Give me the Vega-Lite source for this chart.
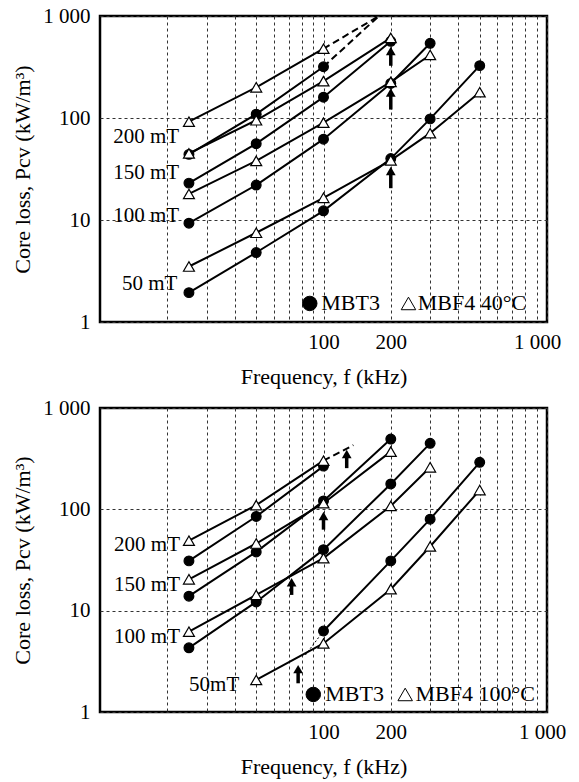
{
  "$schema": "https://vega.github.io/schema/vega-lite/v6.json",
  "background": "white",
  "padding": {"left": 10, "top": 3, "right": 0, "bottom": 0},
  "bounds": "flush",
  "spacing": 86,
  "config": {
    "font": "Liberation Serif",
    "view": {"stroke": "black", "strokeWidth": 2.5},
    "axis": {
      "labelFont": "Liberation Serif", "titleFont": "Liberation Serif",
      "labelFontSize": 21, "titleFontSize": 22, "titleFontWeight": "normal",
      "labelColor": "black", "titleColor": "black",
      "domain": false, "ticks": false, "grid": true,
      "gridColor": "#333", "gridDash": [3, 3], "gridWidth": 1, "gridOpacity": 1
    }
  },
  "datasets": {
    "series": [
      {"panel": "40", "mat": "MBT3", "B": 200, "f": 25, "P": 44},
      {"panel": "40", "mat": "MBT3", "B": 200, "f": 50, "P": 109},
      {"panel": "40", "mat": "MBT3", "B": 200, "f": 100, "P": 318},
      {"panel": "40", "mat": "MBF4", "B": 200, "f": 25, "P": 92},
      {"panel": "40", "mat": "MBF4", "B": 200, "f": 50, "P": 200},
      {"panel": "40", "mat": "MBF4", "B": 200, "f": 100, "P": 478},
      {"panel": "40", "mat": "MBT3", "B": 150, "f": 25, "P": 23},
      {"panel": "40", "mat": "MBT3", "B": 150, "f": 50, "P": 56},
      {"panel": "40", "mat": "MBT3", "B": 150, "f": 100, "P": 160},
      {"panel": "40", "mat": "MBT3", "B": 150, "f": 200, "P": 565},
      {"panel": "40", "mat": "MBF4", "B": 150, "f": 25, "P": 45},
      {"panel": "40", "mat": "MBF4", "B": 150, "f": 50, "P": 95},
      {"panel": "40", "mat": "MBF4", "B": 150, "f": 100, "P": 230},
      {"panel": "40", "mat": "MBF4", "B": 150, "f": 200, "P": 610},
      {"panel": "40", "mat": "MBT3", "B": 100, "f": 25, "P": 9.3},
      {"panel": "40", "mat": "MBT3", "B": 100, "f": 50, "P": 22},
      {"panel": "40", "mat": "MBT3", "B": 100, "f": 100, "P": 62},
      {"panel": "40", "mat": "MBT3", "B": 100, "f": 200, "P": 218},
      {"panel": "40", "mat": "MBT3", "B": 100, "f": 300, "P": 540},
      {"panel": "40", "mat": "MBF4", "B": 100, "f": 25, "P": 18},
      {"panel": "40", "mat": "MBF4", "B": 100, "f": 50, "P": 38},
      {"panel": "40", "mat": "MBF4", "B": 100, "f": 100, "P": 90},
      {"panel": "40", "mat": "MBF4", "B": 100, "f": 200, "P": 226},
      {"panel": "40", "mat": "MBF4", "B": 100, "f": 300, "P": 415},
      {"panel": "40", "mat": "MBT3", "B": 50, "f": 25, "P": 1.94},
      {"panel": "40", "mat": "MBT3", "B": 50, "f": 50, "P": 4.8},
      {"panel": "40", "mat": "MBT3", "B": 50, "f": 100, "P": 12.3},
      {"panel": "40", "mat": "MBT3", "B": 50, "f": 200, "P": 40},
      {"panel": "40", "mat": "MBT3", "B": 50, "f": 300, "P": 98},
      {"panel": "40", "mat": "MBT3", "B": 50, "f": 500, "P": 326},
      {"panel": "40", "mat": "MBF4", "B": 50, "f": 25, "P": 3.5},
      {"panel": "40", "mat": "MBF4", "B": 50, "f": 50, "P": 7.5},
      {"panel": "40", "mat": "MBF4", "B": 50, "f": 100, "P": 16.5},
      {"panel": "40", "mat": "MBF4", "B": 50, "f": 200, "P": 38.5},
      {"panel": "40", "mat": "MBF4", "B": 50, "f": 300, "P": 71},
      {"panel": "40", "mat": "MBF4", "B": 50, "f": 500, "P": 179},

      {"panel": "100", "mat": "MBT3", "B": 200, "f": 25, "P": 31},
      {"panel": "100", "mat": "MBT3", "B": 200, "f": 50, "P": 85},
      {"panel": "100", "mat": "MBT3", "B": 200, "f": 100, "P": 267},
      {"panel": "100", "mat": "MBF4", "B": 200, "f": 25, "P": 49},
      {"panel": "100", "mat": "MBF4", "B": 200, "f": 50, "P": 110},
      {"panel": "100", "mat": "MBF4", "B": 200, "f": 100, "P": 302},
      {"panel": "100", "mat": "MBT3", "B": 150, "f": 25, "P": 13.9},
      {"panel": "100", "mat": "MBT3", "B": 150, "f": 50, "P": 38},
      {"panel": "100", "mat": "MBT3", "B": 150, "f": 100, "P": 121},
      {"panel": "100", "mat": "MBT3", "B": 150, "f": 200, "P": 494},
      {"panel": "100", "mat": "MBF4", "B": 150, "f": 25, "P": 20.4},
      {"panel": "100", "mat": "MBF4", "B": 150, "f": 50, "P": 46},
      {"panel": "100", "mat": "MBF4", "B": 150, "f": 100, "P": 115},
      {"panel": "100", "mat": "MBF4", "B": 150, "f": 200, "P": 371},
      {"panel": "100", "mat": "MBT3", "B": 100, "f": 25, "P": 4.3},
      {"panel": "100", "mat": "MBT3", "B": 100, "f": 50, "P": 12.2},
      {"panel": "100", "mat": "MBT3", "B": 100, "f": 100, "P": 40},
      {"panel": "100", "mat": "MBT3", "B": 100, "f": 200, "P": 178},
      {"panel": "100", "mat": "MBT3", "B": 100, "f": 300, "P": 448},
      {"panel": "100", "mat": "MBF4", "B": 100, "f": 25, "P": 6.2},
      {"panel": "100", "mat": "MBF4", "B": 100, "f": 50, "P": 14.3},
      {"panel": "100", "mat": "MBF4", "B": 100, "f": 100, "P": 33},
      {"panel": "100", "mat": "MBF4", "B": 100, "f": 200, "P": 108},
      {"panel": "100", "mat": "MBF4", "B": 100, "f": 300, "P": 260},
      {"panel": "100", "mat": "MBT3", "B": 50, "f": 100, "P": 6.3},
      {"panel": "100", "mat": "MBT3", "B": 50, "f": 200, "P": 31},
      {"panel": "100", "mat": "MBT3", "B": 50, "f": 300, "P": 80},
      {"panel": "100", "mat": "MBT3", "B": 50, "f": 500, "P": 291},
      {"panel": "100", "mat": "MBF4", "B": 50, "f": 50, "P": 2.07},
      {"panel": "100", "mat": "MBF4", "B": 50, "f": 100, "P": 4.75},
      {"panel": "100", "mat": "MBF4", "B": 50, "f": 200, "P": 16.3},
      {"panel": "100", "mat": "MBF4", "B": 50, "f": 300, "P": 43},
      {"panel": "100", "mat": "MBF4", "B": 50, "f": 500, "P": 155}
    ],
    "ext": [
      {"panel": "40", "id": "a", "style": "dashed", "f": 100, "P": 478},
      {"panel": "40", "id": "a", "style": "dashed", "f": 177, "P": 1000},
      {"panel": "40", "id": "b", "style": "dashed", "f": 100, "P": 318},
      {"panel": "40", "id": "b", "style": "dashed", "f": 177, "P": 1000},
      {"panel": "100", "id": "c", "style": "dashed", "f": 100, "P": 302},
      {"panel": "100", "id": "c", "style": "dashed", "f": 136, "P": 430},
      {"panel": "100", "id": "d", "style": "dotted", "f": 83, "P": 3.65},
      {"panel": "100", "id": "d", "style": "dotted", "f": 100, "P": 6.3}
    ],
    "arrows": [
      {"panel": "40", "f": 200, "P": 454, "P2": 325},
      {"panel": "40", "f": 200, "P": 178, "P2": 121},
      {"panel": "40", "f": 200, "P": 30.2, "P2": 20.5},
      {"panel": "100", "f": 127, "P": 351, "P2": 255},
      {"panel": "100", "f": 100, "P": 86, "P2": 63},
      {"panel": "100", "f": 72, "P": 19.1, "P2": 14.3},
      {"panel": "100", "f": 77, "P": 2.65, "P2": 1.92}
    ],
    "labels": [
      {"panel": "40", "f": 22.6, "P": 65, "text": "200 mT"},
      {"panel": "40", "f": 22.6, "P": 29, "text": "150 mT"},
      {"panel": "40", "f": 22.6, "P": 10.9, "text": "100 mT"},
      {"panel": "40", "f": 22.2, "P": 2.34, "text": "50 mT"},
      {"panel": "100", "f": 22.8, "P": 44.5, "text": "200 mT"},
      {"panel": "100", "f": 22.8, "P": 17.9, "text": "150 mT"},
      {"panel": "100", "f": 22.8, "P": 5.5, "text": "100 mT"},
      {"panel": "100", "f": 42, "P": 1.84, "text": "50mT"}
    ],
    "legendpts": [
      {"panel": "40", "mat": "MBT3", "f": 86.8, "P": 1.52},
      {"panel": "40", "mat": "MBF4", "f": 240, "P": 1.52},
      {"panel": "100", "mat": "MBT3", "f": 90, "P": 1.49},
      {"panel": "100", "mat": "MBF4", "f": 232, "P": 1.49}
    ],
    "legendtxt": [
      {"panel": "40", "f": 97.7, "P": 1.52, "text": "MBT3"},
      {"panel": "40", "f": 264, "P": 1.52, "text": "MBF4 40°C"},
      {"panel": "100", "f": 101.8, "P": 1.49, "text": "MBT3"},
      {"panel": "100", "f": 258, "P": 1.49, "text": "MBF4 100°C"}
    ]
  },
  "vconcat": [
    {
      "width": 447, "height": 306,
      "layer": [
        {
          "data": {"name": "series"}, "transform": [{"filter": "datum.panel == '40'"}],
          "mark": {"type": "line", "color": "black", "strokeWidth": 2, "clip": true},
          "encoding": {
            "x": {"field": "f", "type": "quantitative", "title": "Frequency, f (kHz)",
              "scale": {"type": "log", "domain": [10, 1000], "nice": false},
              "axis": {"values": [20, 30, 40, 50, 60, 70, 80, 90, 100, 200, 300, 400, 500, 600, 700, 800, 900, 1000],
                "labelExpr": "datum.value == 100 ? '100' : datum.value == 200 ? '200' : datum.value == 1000 ? '1 000' : ''",
                "labelFont": "Liberation Serif", "titleFont": "Liberation Serif",
                "labelOverlap": false, "labelFlush": false, "labelPadding": 9, "titlePadding": 14,
                "labelOffset": {"condition": {"test": "datum.value == 1000", "value": -10}, "value": 0}}},
            "y": {"field": "P", "type": "quantitative", "title": "Core loss, Pcv (kW/m³)",
              "scale": {"type": "log", "domain": [1, 1000], "nice": false},
              "axis": {"values": [1, 10, 100, 1000],
                "labelExpr": "datum.value == 1000 ? '1 000' : datum.value == 100 ? '100' : datum.value == 10 ? '10' : '1'",
                "labelFont": "Liberation Serif", "titleFont": "Liberation Serif",
                "labelOverlap": false, "labelPadding": 10, "titlePadding": 8}},
            "detail": [{"field": "mat"}, {"field": "B"}],
            "order": {"field": "f", "type": "quantitative"}
          }
        },
        {
          "data": {"name": "ext"}, "transform": [{"filter": "datum.panel == '40'"}],
          "mark": {"type": "line", "color": "black", "clip": true},
          "encoding": {
            "x": {"field": "f", "type": "quantitative"},
            "y": {"field": "P", "type": "quantitative"},
            "detail": {"field": "id"},
            "strokeDash": {"field": "style", "type": "nominal", "scale": {"domain": ["dashed", "dotted"], "range": [[7, 4], [2, 2]]}, "legend": null},
            "strokeWidth": {"field": "style", "type": "nominal", "scale": {"domain": ["dashed", "dotted"], "range": [2, 1]}, "legend": null}
          }
        },
        {
          "data": {"name": "arrows"}, "transform": [{"filter": "datum.panel == '40'"}],
          "mark": {"type": "rule", "color": "black", "strokeWidth": 3.5},
          "encoding": {
            "x": {"field": "f", "type": "quantitative"},
            "y": {"field": "P", "type": "quantitative"},
            "y2": {"field": "P2"}
          }
        },
        {
          "data": {"name": "arrows"}, "transform": [{"filter": "datum.panel == '40'"}],
          "mark": {"type": "point", "shape": "triangle-up", "filled": true, "color": "black", "size": 95, "opacity": 1},
          "encoding": {
            "x": {"field": "f", "type": "quantitative"},
            "y": {"field": "P", "type": "quantitative"}
          }
        },
        {
          "data": {"name": "series"}, "transform": [{"filter": "datum.panel == '40'"}],
          "mark": {"type": "point", "filled": true, "stroke": "black", "strokeWidth": 1.2, "opacity": 1},
          "encoding": {
            "x": {"field": "f", "type": "quantitative"},
            "y": {"field": "P", "type": "quantitative"},
            "shape": {"field": "mat", "type": "nominal", "scale": {"domain": ["MBT3", "MBF4"], "range": ["circle", "triangle-up"]}, "legend": null},
            "fill": {"field": "mat", "type": "nominal", "scale": {"domain": ["MBT3", "MBF4"], "range": ["black", "white"]}, "legend": null},
            "size": {"field": "mat", "type": "nominal", "scale": {"domain": ["MBT3", "MBF4"], "range": [95, 120]}, "legend": null}
          }
        },
        {
          "data": {"name": "labels"}, "transform": [{"filter": "datum.panel == '40'"}],
          "mark": {"type": "text", "align": "right", "baseline": "middle", "fontSize": 21, "font": "Liberation Serif", "color": "black"},
          "encoding": {
            "x": {"field": "f", "type": "quantitative"},
            "y": {"field": "P", "type": "quantitative"},
            "text": {"field": "text"}
          }
        },
        {
          "data": {"name": "legendpts"}, "transform": [{"filter": "datum.panel == '40'"}],
          "mark": {"type": "point", "filled": true, "stroke": "black", "strokeWidth": 1, "opacity": 1, "size": 210},
          "encoding": {
            "x": {"field": "f", "type": "quantitative"},
            "y": {"field": "P", "type": "quantitative"},
            "shape": {"field": "mat", "type": "nominal", "legend": null},
            "fill": {"field": "mat", "type": "nominal", "legend": null}
          }
        },
        {
          "data": {"name": "legendtxt"}, "transform": [{"filter": "datum.panel == '40'"}],
          "mark": {"type": "text", "align": "left", "baseline": "middle", "fontSize": 22, "font": "Liberation Serif", "color": "black"},
          "encoding": {
            "x": {"field": "f", "type": "quantitative"},
            "y": {"field": "P", "type": "quantitative"},
            "text": {"field": "text"}
          }
        }
      ]
    },
    {
      "width": 447, "height": 304,
      "layer": [
        {
          "data": {"name": "series"}, "transform": [{"filter": "datum.panel == '100'"}],
          "mark": {"type": "line", "color": "black", "strokeWidth": 2, "clip": true},
          "encoding": {
            "x": {"field": "f", "type": "quantitative", "title": "Frequency, f (kHz)",
              "scale": {"type": "log", "domain": [10, 1000], "nice": false},
              "axis": {"values": [20, 30, 40, 50, 60, 70, 80, 90, 100, 200, 300, 400, 500, 600, 700, 800, 900, 1000],
                "labelExpr": "datum.value == 100 ? '100' : datum.value == 200 ? '200' : datum.value == 1000 ? '1 000' : ''",
                "labelFont": "Liberation Serif", "titleFont": "Liberation Serif",
                "labelOverlap": false, "labelFlush": false, "labelPadding": 9, "titlePadding": 14,
                "labelOffset": {"condition": {"test": "datum.value == 1000", "value": -5}, "value": 0}}},
            "y": {"field": "P", "type": "quantitative", "title": "Core loss, Pcv (kW/m³)",
              "scale": {"type": "log", "domain": [1, 1000], "nice": false},
              "axis": {"values": [1, 10, 100, 1000],
                "labelExpr": "datum.value == 1000 ? '1 000' : datum.value == 100 ? '100' : datum.value == 10 ? '10' : '1'",
                "labelFont": "Liberation Serif", "titleFont": "Liberation Serif",
                "labelOverlap": false, "labelPadding": 10, "titlePadding": 8}},
            "detail": [{"field": "mat"}, {"field": "B"}],
            "order": {"field": "f", "type": "quantitative"}
          }
        },
        {
          "data": {"name": "ext"}, "transform": [{"filter": "datum.panel == '100'"}],
          "mark": {"type": "line", "color": "black", "clip": true},
          "encoding": {
            "x": {"field": "f", "type": "quantitative"},
            "y": {"field": "P", "type": "quantitative"},
            "detail": {"field": "id"},
            "strokeDash": {"field": "style", "type": "nominal", "scale": {"domain": ["dashed", "dotted"], "range": [[7, 4], [2, 2]]}, "legend": null},
            "strokeWidth": {"field": "style", "type": "nominal", "scale": {"domain": ["dashed", "dotted"], "range": [2, 1]}, "legend": null}
          }
        },
        {
          "data": {"name": "arrows"}, "transform": [{"filter": "datum.panel == '100'"}],
          "mark": {"type": "rule", "color": "black", "strokeWidth": 3.5},
          "encoding": {
            "x": {"field": "f", "type": "quantitative"},
            "y": {"field": "P", "type": "quantitative"},
            "y2": {"field": "P2"}
          }
        },
        {
          "data": {"name": "arrows"}, "transform": [{"filter": "datum.panel == '100'"}],
          "mark": {"type": "point", "shape": "triangle-up", "filled": true, "color": "black", "size": 95, "opacity": 1},
          "encoding": {
            "x": {"field": "f", "type": "quantitative"},
            "y": {"field": "P", "type": "quantitative"}
          }
        },
        {
          "data": {"name": "series"}, "transform": [{"filter": "datum.panel == '100'"}],
          "mark": {"type": "point", "filled": true, "stroke": "black", "strokeWidth": 1.2, "opacity": 1},
          "encoding": {
            "x": {"field": "f", "type": "quantitative"},
            "y": {"field": "P", "type": "quantitative"},
            "shape": {"field": "mat", "type": "nominal", "scale": {"domain": ["MBT3", "MBF4"], "range": ["circle", "triangle-up"]}, "legend": null},
            "fill": {"field": "mat", "type": "nominal", "scale": {"domain": ["MBT3", "MBF4"], "range": ["black", "white"]}, "legend": null},
            "size": {"field": "mat", "type": "nominal", "scale": {"domain": ["MBT3", "MBF4"], "range": [95, 120]}, "legend": null}
          }
        },
        {
          "data": {"name": "labels"}, "transform": [{"filter": "datum.panel == '100'"}],
          "mark": {"type": "text", "align": "right", "baseline": "middle", "fontSize": 21, "font": "Liberation Serif", "color": "black"},
          "encoding": {
            "x": {"field": "f", "type": "quantitative"},
            "y": {"field": "P", "type": "quantitative"},
            "text": {"field": "text"}
          }
        },
        {
          "data": {"name": "legendpts"}, "transform": [{"filter": "datum.panel == '100'"}],
          "mark": {"type": "point", "filled": true, "stroke": "black", "strokeWidth": 1, "opacity": 1, "size": 210},
          "encoding": {
            "x": {"field": "f", "type": "quantitative"},
            "y": {"field": "P", "type": "quantitative"},
            "shape": {"field": "mat", "type": "nominal", "legend": null},
            "fill": {"field": "mat", "type": "nominal", "legend": null}
          }
        },
        {
          "data": {"name": "legendtxt"}, "transform": [{"filter": "datum.panel == '100'"}],
          "mark": {"type": "text", "align": "left", "baseline": "middle", "fontSize": 22, "font": "Liberation Serif", "color": "black"},
          "encoding": {
            "x": {"field": "f", "type": "quantitative"},
            "y": {"field": "P", "type": "quantitative"},
            "text": {"field": "text"}
          }
        }
      ]
    }
  ]
}
